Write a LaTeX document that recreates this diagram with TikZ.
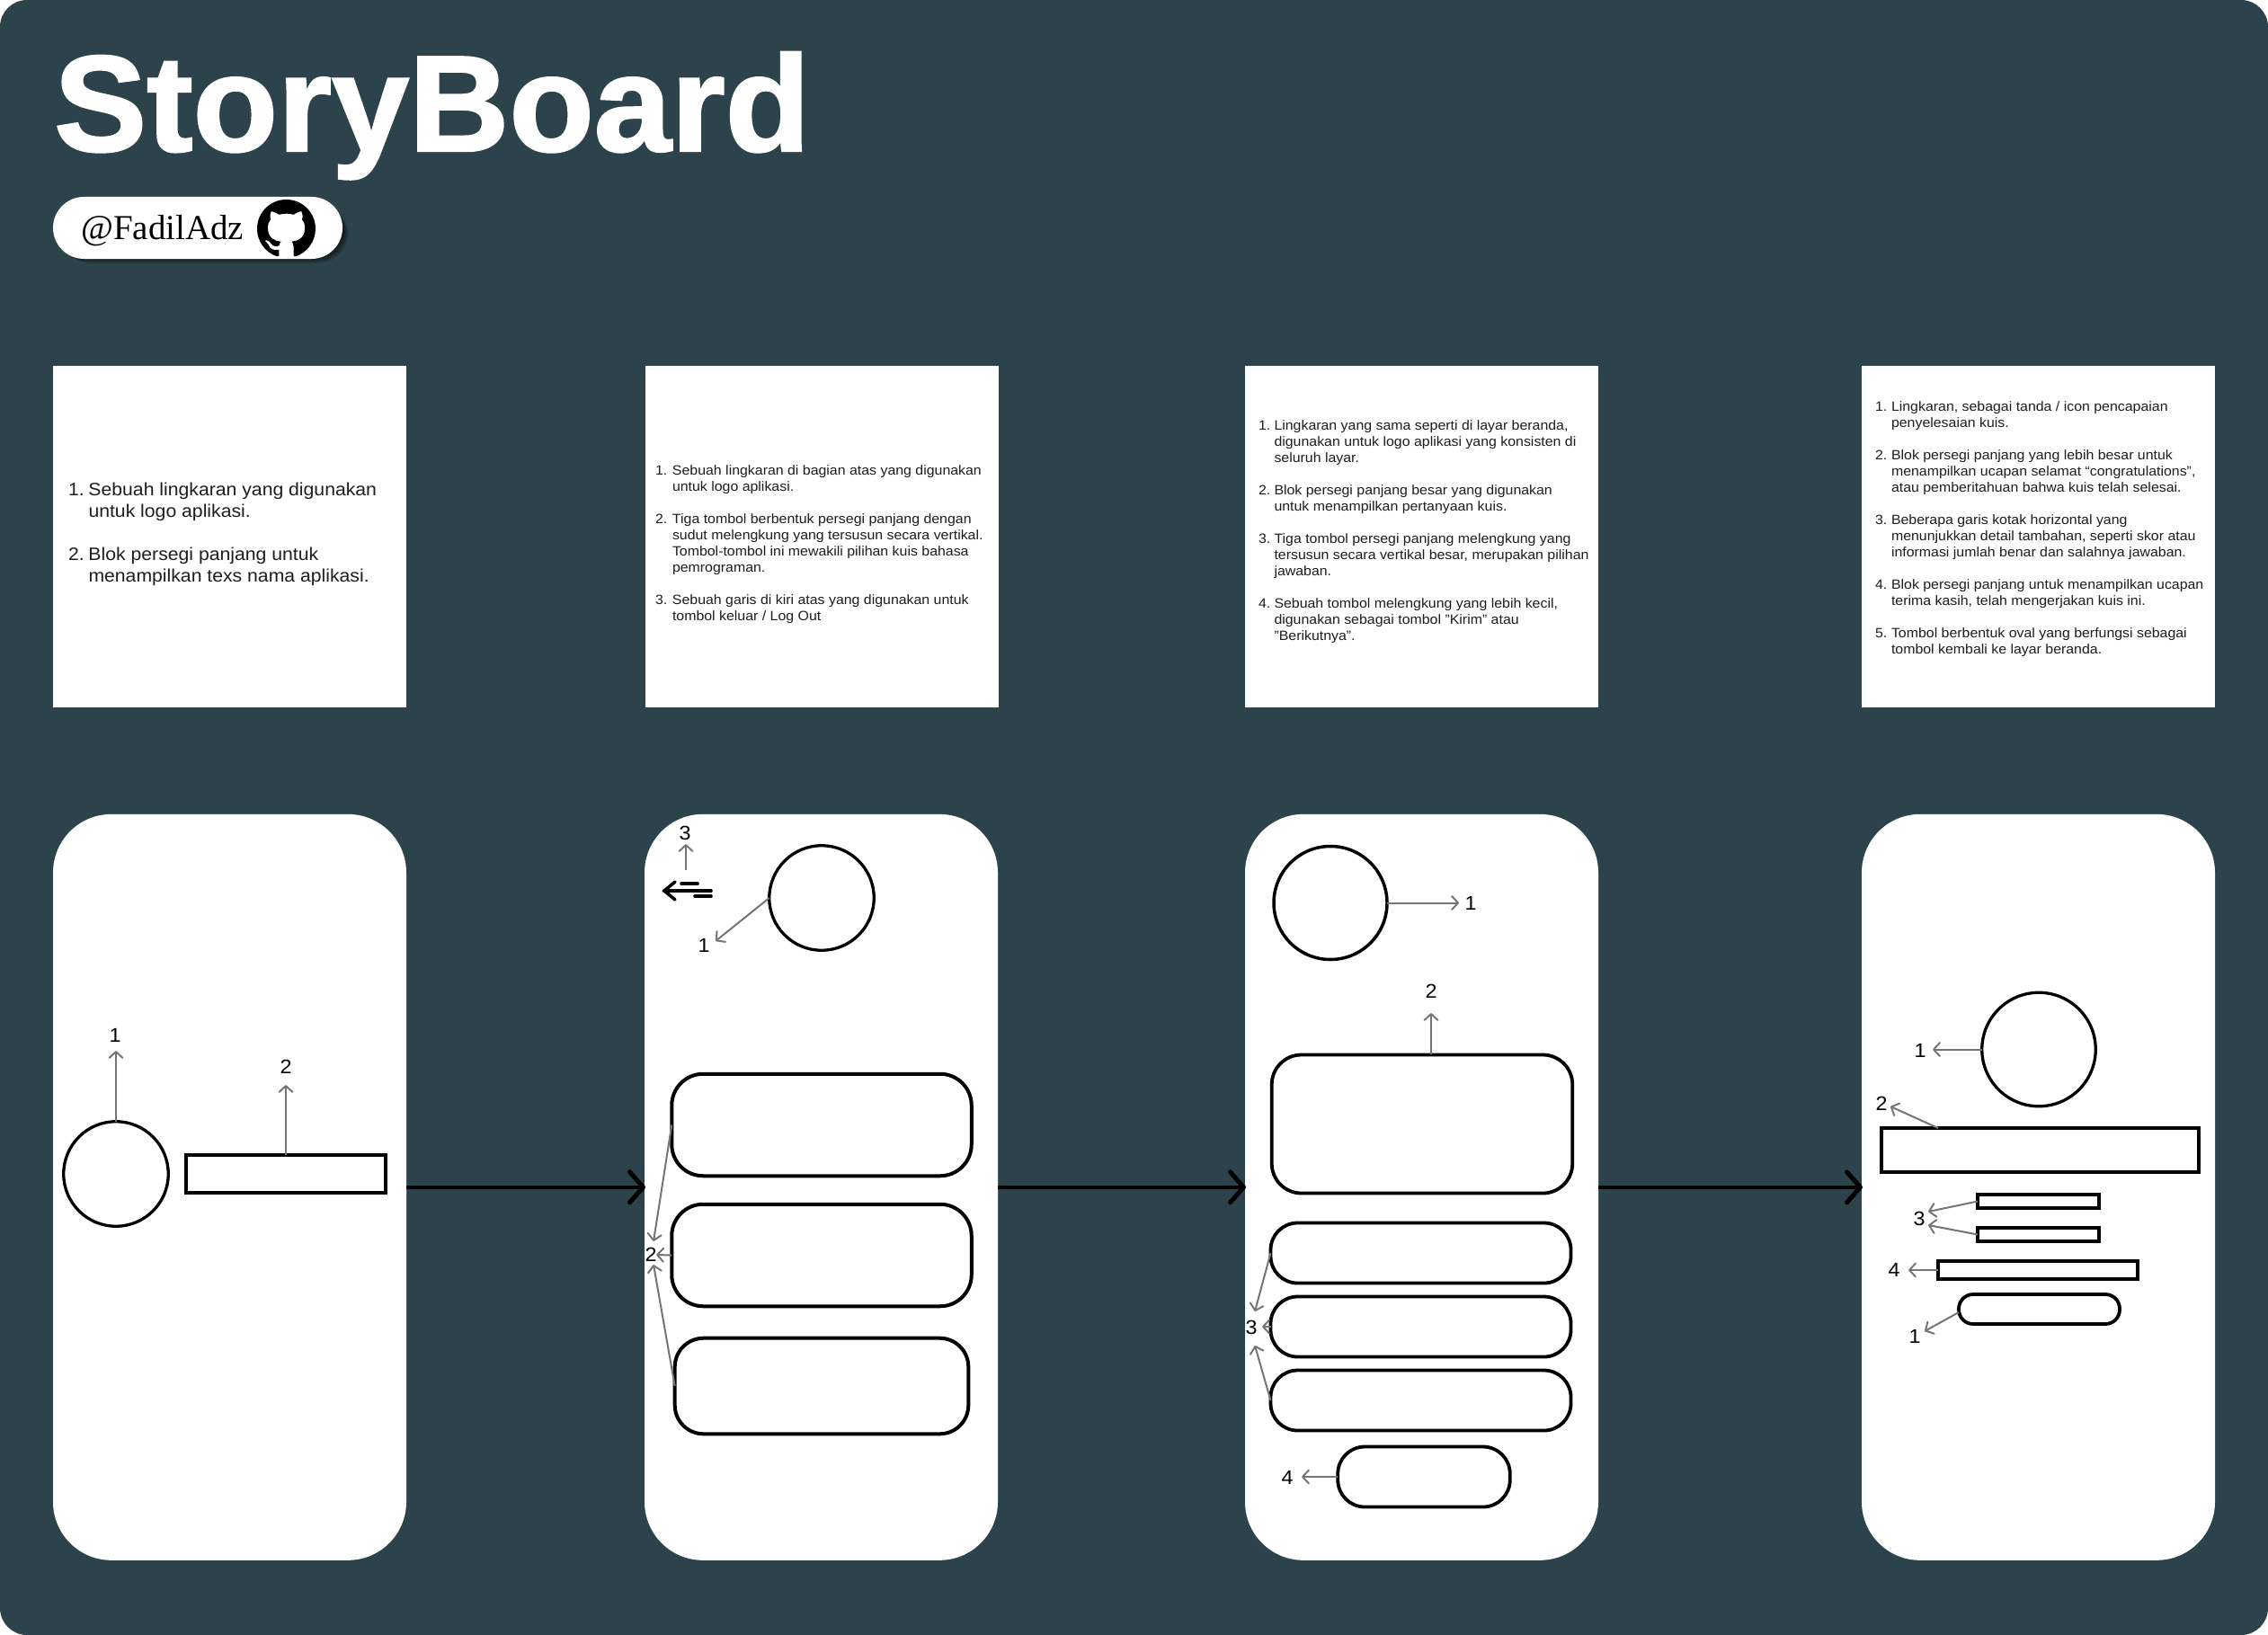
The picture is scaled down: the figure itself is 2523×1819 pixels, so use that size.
\documentclass[tikz,border=0pt]{standalone}
\usepackage{fontspec}
\usepackage{array}
\setmainfont{Liberation Sans}[FakeStretch=1.06]
\newfontfamily\titlefont{Liberation Sans Bold}[FakeStretch=1.016,FakeBold=1.6]
\newfontfamily\badgefont{Liberation Serif}
\usetikzlibrary{arrows.meta,svg.path}
\definecolor{bgslate}{HTML}{2D434C}
\definecolor{inktext}{HTML}{1E1E1E}
\definecolor{leader}{HTML}{757575}
\tikzset{
  panel/.style={rectangle,fill=white,inner sep=0pt,outer sep=0pt},
  phone/.style={panel,rounded corners=65pt,minimum width=393pt,minimum height=830pt},
  notecard/.style={panel,minimum width=393pt,minimum height=380pt},
  wire/.style={rectangle,draw=black,fill=white,inner sep=0pt,outer sep=0pt,line width=3.8pt},
  ring/.style={circle,draw=black,fill=white,inner sep=0pt,outer sep=0pt,line width=3.3pt},
  notes/.style={anchor=base west,inner sep=0pt,outer sep=0pt,text=inktext,align=left},
  num/.style={inner sep=0pt,outer sep=0pt,text=black,font=\fontsize{22}{24}\selectfont},
  lead/.style={draw=leader,line width=2pt,-{Straight Barb[length=7pt,width=15pt,line width=2pt,round]}},
  flow/.style={draw=black,line width=4.5pt,-{Straight Barb[length=15pt,width=34pt,line width=5pt,round]}},
  backbar/.style={draw=black,line width=3.6pt,line cap=round},
  haze/.style={fill=black,fill opacity=0.2},
}
\newcommand{\smalltxt}{\fontsize{15}{18}\selectfont}
\begin{document}
\begin{tikzpicture}[x=1pt,y=-1pt]
\useasboundingbox (0,0) rectangle (2523,1819);
\fill[bgslate,rounded corners=30pt] (0,0) rectangle (2523,1819);
% title
\node[anchor=base west,inner sep=0pt,text=white,font=\titlefont\fontsize{152}{170}\selectfont] (title) at (60,168) {StoryBoard};
% badge with a soft shadow
\foreach \g in {0,1.5,3,4.5,6}{
  \fill[haze,rounded corners=34pt] (60+\g,222+\g) rectangle (380+1.25*\g,285+1.25*\g);
}
\node[panel,rounded corners=34.5pt,minimum width=322pt,minimum height=69pt] (badge) at (220,253.5) {};
\node[anchor=base west,inner sep=0pt,text=black,font=\badgefont\fontsize{39}{44}\selectfont] (handle) at (90,266) {@FadilAdz};
\begin{scope}[shift={(286,222)},yscale=-1,scale=4.06]
\fill[black] svg "M 8 0 C 3.58 0 0 3.58 0 8 c 0 3.54 2.29 6.53 5.47 7.59 0.4 0.07 0.55 -0.17 0.55 -0.38 0 -0.19 -0.01 -0.82 -0.01 -1.49 -2.01 0.37 -2.53 -0.49 -2.69 -0.94 -0.09 -0.23 -0.48 -0.94 -0.82 -1.13 -0.28 -0.15 -0.68 -0.52 -0.01 -0.53 0.63 -0.01 1.08 0.58 1.23 0.82 0.72 1.21 1.87 0.87 2.33 0.66 0.07 -0.52 0.28 -0.87 0.51 -1.07 -1.78 -0.2 -3.64 -0.89 -3.64 -3.95 0 -0.87 0.31 -1.59 0.82 -2.15 -0.08 -0.2 -0.36 -1.02 0.08 -2.12 0 0 0.67 -0.21 2.2 0.82 0.64 -0.18 1.32 -0.27 2 -0.27 0.68 0 1.36 0.09 2 0.27 1.53 -1.04 2.2 -0.82 2.2 -0.82 0.44 1.1 0.16 1.92 0.08 2.12 0.51 0.56 0.82 1.27 0.82 2.15 0 3.07 -1.87 3.75 -3.65 3.95 0.29 0.25 0.54 0.73 0.54 1.48 0 1.07 -0.01 1.93 -0.01 2.2 0 0.21 0.15 0.46 0.55 0.38 A 8.013 8.013 0 0 0 16 8 c 0 -4.42 -3.58 -8 -8 -8 z";
\end{scope}
% note cards
\node[notecard] (c1) at (255.5,597) {};
\node[notecard] (c2) at (914.5,597) {};
\node[notecard] (c3) at (1581.5,597) {};
\node[notecard] (c4) at (2267.5,597) {};
\node[notes,font=\fontsize{20}{24}\selectfont] (n1) at (76,551) {\begin{tabular}[t]{@{}p{22.5pt}@{}l@{}}
1.&Sebuah lingkaran yang digunakan\\
&untuk logo aplikasi.\\[24pt]
2.&Blok persegi panjang untuk\\
&menampilkan texs nama aplikasi.
\end{tabular}};
\node[notes,font=\smalltxt] (n2) at (729,528) {\begin{tabular}[t]{@{}p{19pt}@{}l@{}}
1.&Sebuah lingkaran di bagian atas yang digunakan\\
&untuk logo aplikasi.\\[18pt]
2.&Tiga tombol berbentuk persegi panjang dengan\\
&sudut melengkung yang tersusun secara vertikal.\\
&Tombol-tombol ini mewakili pilihan kuis bahasa\\
&pemrograman.\\[18pt]
3.&Sebuah garis di kiri atas yang digunakan untuk\\
&tombol keluar / Log Out
\end{tabular}};
\node[notes,font=\smalltxt] (n3) at (1400,478) {\begin{tabular}[t]{@{}p{17.5pt}@{}l@{}}
1.&Lingkaran yang sama seperti di layar beranda,\\
&digunakan untuk logo aplikasi yang konsisten di\\
&seluruh layar.\\[18pt]
2.&Blok persegi panjang besar yang digunakan\\
&untuk menampilkan pertanyaan kuis.\\[18pt]
3.&Tiga tombol persegi panjang melengkung yang\\
&tersusun secara vertikal besar, merupakan pilihan\\
&jawaban.\\[18pt]
4.&Sebuah tombol melengkung yang lebih kecil,\\
&digunakan sebagai tombol "Kirim" atau\\
&"Berikutnya".
\end{tabular}};
\node[notes,font=\smalltxt] (n4) at (2086,457) {\begin{tabular}[t]{@{}p{18pt}@{}l@{}}
1.&Lingkaran, sebagai tanda / icon pencapaian\\
&penyelesaian kuis.\\[18pt]
2.&Blok persegi panjang yang lebih besar untuk\\
&menampilkan ucapan selamat “congratulations”,\\
&atau pemberitahuan bahwa kuis telah selesai.\\[18pt]
3.&Beberapa garis kotak horizontal yang\\
&menunjukkan detail tambahan, seperti skor atau\\
&informasi jumlah benar dan salahnya jawaban.\\[18pt]
4.&Blok persegi panjang untuk menampilkan ucapan\\
&terima kasih, telah mengerjakan kuis ini.\\[18pt]
5.&Tombol berbentuk oval yang berfungsi sebagai\\
&tombol kembali ke layar beranda.
\end{tabular}};
% phones
\node[phone] (p1) at (255.5,1320.8) {};
\node[phone] (p2) at (913.5,1320.8) {};
\node[phone] (p3) at (1581.5,1320.8) {};
\node[phone] (p4) at (2267.5,1320.8) {};
\draw[flow] (p1.east) -- ([xshift=1pt]p2.west);
\draw[flow] (p2.east) -- ([xshift=1pt]p3.west);
\draw[flow] (p3.east) -- ([xshift=1pt]p4.west);
% phone 1
\node[ring,minimum size=116.5pt] (a1) at (129,1306) {};
\node[wire,minimum width=222pt,minimum height=41.5pt] (a2) at (318,1306) {};
\node[num] (a1n) at (128,1152) {1};
\node[num] (a2n) at (318,1187) {2};
\coordinate (a1e) at (129,1169);
\coordinate (a2e) at (318,1207);
\draw[lead] (a1.north) -- (a1e);
\draw[lead] (a2.north) -- (a2e);
% phone 2
\node[ring,minimum size=116.5pt] (b1) at (914,999) {};
\node[wire,line width=4pt,rounded corners=35pt,minimum width=333.5pt,minimum height=113.5pt] (b2) at (914,1251.5) {};
\node[wire,line width=4pt,rounded corners=35pt,minimum width=333.5pt,minimum height=113.5pt] (b3) at (914,1396.5) {};
\node[wire,line width=4pt,rounded corners=32pt,minimum width=326.6pt,minimum height=106.6pt] (b4) at (914,1542) {};
\node[num] (b1n) at (783,1052) {1};
\node[num] (b2n) at (724,1396) {2};
\node[num] (b3n) at (762,927) {3};
\coordinate (b1e) at (796,1047);
\coordinate (b2e) at (727,1381);
\coordinate (b3e) at (730,1396);
\coordinate (b4e) at (727,1407);
\coordinate (b5s) at (763,968);
\coordinate (b5e) at (763,939);
\draw[lead] (b1.west) -- (b1e);
\draw[lead] (b2.west) -- (b2e);
\draw[lead] (b3.west) -- (b3e);
\draw[lead] (b4.west) -- (b4e);
\draw[lead] (b5s) -- (b5e);
\coordinate (bk0) at (739,991);
\coordinate (bk1) at (751,981);
\coordinate (bk2) at (751,1001);
\coordinate (bk4) at (791,991);
\coordinate (bk5) at (758,983);
\coordinate (bk6) at (776,983);
\coordinate (bk7) at (773,997);
\coordinate (bk8) at (791,997);
\draw[backbar] (bk1) -- (bk0) -- (bk2);
\draw[backbar] (bk0) -- (bk4);
\draw[backbar] (bk5) -- (bk6);
\draw[backbar] (bk7) -- (bk8);
% phone 3
\node[ring,line width=3.5pt,minimum size=126pt] (d1) at (1480,1004.5) {};
\node[wire,rounded corners=33pt,minimum width=334.5pt,minimum height=154pt] (d2) at (1582,1250.5) {};
\node[wire,rounded corners=30pt,minimum width=334pt,minimum height=67pt] (d3) at (1580.5,1394) {};
\node[wire,rounded corners=30pt,minimum width=334pt,minimum height=67pt] (d4) at (1580.5,1476) {};
\node[wire,rounded corners=30pt,minimum width=334pt,minimum height=67pt] (d5) at (1580.5,1558) {};
\node[wire,rounded corners=30pt,minimum width=191.5pt,minimum height=67pt] (d6) at (1584,1643) {};
\node[num] (d1n) at (1636,1004.5) {1};
\node[num] (d2n) at (1592,1103) {2};
\node[num] (d3n) at (1392,1477) {3};
\node[num] (d4n) at (1432,1644) {4};
\coordinate (d1e) at (1623,1004.5);
\coordinate (d2s) at (1592,1173);
\coordinate (d2e) at (1592,1127);
\coordinate (d3e) at (1396,1459);
\coordinate (d4e) at (1404,1476);
\coordinate (d5e) at (1396,1497);
\coordinate (d6e) at (1448,1643);
\draw[lead] (d1.east) -- (d1e);
\draw[lead] (d2s) -- (d2e);
\draw[lead] (d3.west) -- (d3e);
\draw[lead] (d4.west) -- (d4e);
\draw[lead] (d5.west) -- (d5e);
\draw[lead] (d6.west) -- (d6e);
% phone 4
\node[ring,minimum size=126.5pt] (e1) at (2268,1167.5) {};
\node[wire,minimum width=353pt,minimum height=49pt] (e2) at (2269.5,1279.5) {};
\node[wire,minimum width=135pt,minimum height=15pt] (e3) at (2267.5,1336.5) {};
\node[wire,minimum width=135pt,minimum height=15pt] (e4) at (2267.5,1373.5) {};
\node[wire,minimum width=222pt,minimum height=20pt] (e5) at (2267,1413) {};
\node[wire,rounded corners=16pt,minimum width=179pt,minimum height=33pt] (e6) at (2268.5,1456.5) {};
\node[num] (e1n) at (2136,1169) {1};
\node[num] (e2n) at (2093,1228) {2};
\node[num] (e3n) at (2135,1356) {3};
\node[num] (e5n) at (2107,1413) {4};
\node[num] (e6n) at (2130,1487) {1};
\coordinate (e1e) at (2150,1167.5);
\coordinate (e2s) at (2156,1255);
\coordinate (e2e) at (2103,1231);
\coordinate (e3e) at (2145,1348);
\coordinate (e4e) at (2145,1363);
\coordinate (e5e) at (2123,1413);
\coordinate (e6s) at (2179,1460);
\coordinate (e6e) at (2141,1481);
\draw[lead] (e1.west) -- (e1e);
\draw[lead] (e2s) -- (e2e);
\draw[lead] (e3.west) -- (e3e);
\draw[lead] (e4.west) -- (e4e);
\draw[lead] (e5.west) -- (e5e);
\draw[lead] (e6s) -- (e6e);
\end{tikzpicture}
\end{document}
